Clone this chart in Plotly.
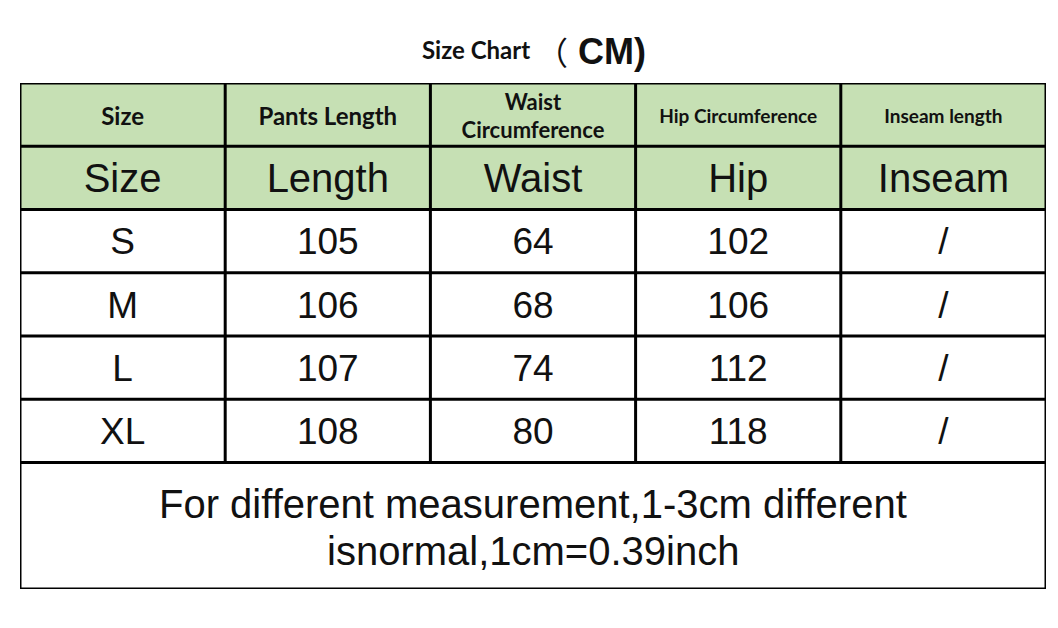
import plotly.graph_objects as go

# ---------------- data ----------------
title_text = "Size Chart"
title_paren = "（"
title_unit = "CM)"
header_en = ["Size", "Pants Length", "Waist<br>Circumference", "Hip Circumference", "Inseam length"]
header_short = ["Size", "Length", "Waist", "Hip", "Inseam"]
sizes = ["S", "M", "L", "XL"]
pants_length = [105, 106, 107, 108]
waist = [64, 68, 74, 80]
hip = [102, 106, 112, 118]
inseam = ["/", "/", "/", "/"]
note_lines = ["For different measurement,1-3cm different", "isnormal,1cm=0.39inch"]

# ---------------- layout geometry ----------------
PAGE_W, PAGE_H = 1058, 628
OFF = 8  # default page body margin
W, H = PAGE_W - OFF, PAGE_H - OFF
X0, X1, Y0, Y1 = 20, 1046, 83, 589  # table bounds in page pixels
ncols = 5
row_units = [1, 1, 1, 1, 1, 1, 2]  # header1, header2, 4 data rows, note
total_units = sum(row_units)
UNIT_PX = (Y1 - Y0) / total_units
TEXT_DY = 4 / UNIT_PX  # small downward nudge of cell text
GREEN = "#C6E0B4"
LINE_W = 3
INK = "#111111"


def px(xp):
    return (xp - X0) / (X1 - X0)


def py(yp):
    return (Y1 - yp) / (Y1 - Y0)


fig = go.Figure()

shapes = []
shapes.append(dict(type="rect", xref="x", yref="y", x0=0, x1=ncols, y0=0, y1=2,
                   fillcolor=GREEN, line=dict(width=0), layer="below"))
bounds = [0]
for u in row_units:
    bounds.append(bounds[-1] + u)
for b in bounds:
    shapes.append(dict(type="line", xref="x", yref="y", x0=0, x1=ncols, y0=b, y1=b,
                       line=dict(color="black", width=LINE_W)))
for c in range(ncols + 1):
    yend = total_units if c in (0, ncols) else bounds[6]
    shapes.append(dict(type="line", xref="x", yref="y", x0=c, x1=c, y0=0, y1=yend,
                       line=dict(color="black", width=LINE_W)))

# header row 1
fig.add_trace(go.Scatter(
    x=[i + 0.5 for i in range(ncols)], y=[0.5 + TEXT_DY] * ncols, mode="text",
    text=header_en, textposition="middle center",
    textfont=dict(family="Lato", size=[24, 24, 22, 19, 19], color=INK, weight="bold"),
    hoverinfo="skip", showlegend=False, cliponaxis=False))
# header row 2
fig.add_trace(go.Scatter(
    x=[i + 0.5 for i in range(ncols)], y=[1.5 + TEXT_DY] * ncols, mode="text",
    text=header_short, textposition="middle center",
    textfont=dict(family="Liberation Sans", size=40, color=INK),
    hoverinfo="skip", showlegend=False, cliponaxis=False))
# data rows
cols = [sizes, pants_length, waist, hip, inseam]
for ci, col in enumerate(cols):
    fig.add_trace(go.Scatter(
        x=[ci + 0.5] * len(col), y=[2.5 + r + TEXT_DY for r in range(len(col))], mode="text",
        text=[str(v) for v in col], textposition="middle center",
        textfont=dict(family="Liberation Sans", size=37, color=INK),
        hoverinfo="skip", showlegend=False, cliponaxis=False))
# note (two lines, tighter spacing than default)
for k, line in enumerate(note_lines):
    fig.add_annotation(x=ncols / 2, y=bounds[6] + 1 + (k - 0.5) * (47 / UNIT_PX) + 0.02,
                       xref="x", yref="y", text=line,
                       showarrow=False, align="center", yanchor="middle",
                       font=dict(family="Liberation Sans", size=40, color=INK))

# title
fig.add_annotation(x=px(476), y=py(50), xref="paper", yref="paper", xanchor="center", yanchor="middle",
                   text=title_text, showarrow=False,
                   font=dict(family="Lato", size=24, color=INK, weight="bold"))
fig.add_annotation(x=px(570), y=py(51), xref="paper", yref="paper", xanchor="right", yanchor="middle",
                   text=title_paren, showarrow=False,
                   font=dict(family="Noto Sans CJK SC", size=32, color=INK))
fig.add_annotation(x=px(612), y=py(52), xref="paper", yref="paper", xanchor="center", yanchor="middle",
                   text="<b>" + title_unit + "</b>", showarrow=False,
                   font=dict(family="Liberation Sans", size=36, color=INK))

fig.update_layout(
    width=W, height=H,
    margin=dict(l=X0 - OFF, r=PAGE_W - X1, t=Y0 - OFF, b=PAGE_H - Y1, pad=0),
    paper_bgcolor="white", plot_bgcolor="white",
    shapes=shapes,
    xaxis=dict(range=[0, ncols], visible=False, fixedrange=True),
    yaxis=dict(range=[total_units, 0], visible=False, fixedrange=True),
    showlegend=False,
)

fig.write_html("out.html", config={"displayModeBar": False})
